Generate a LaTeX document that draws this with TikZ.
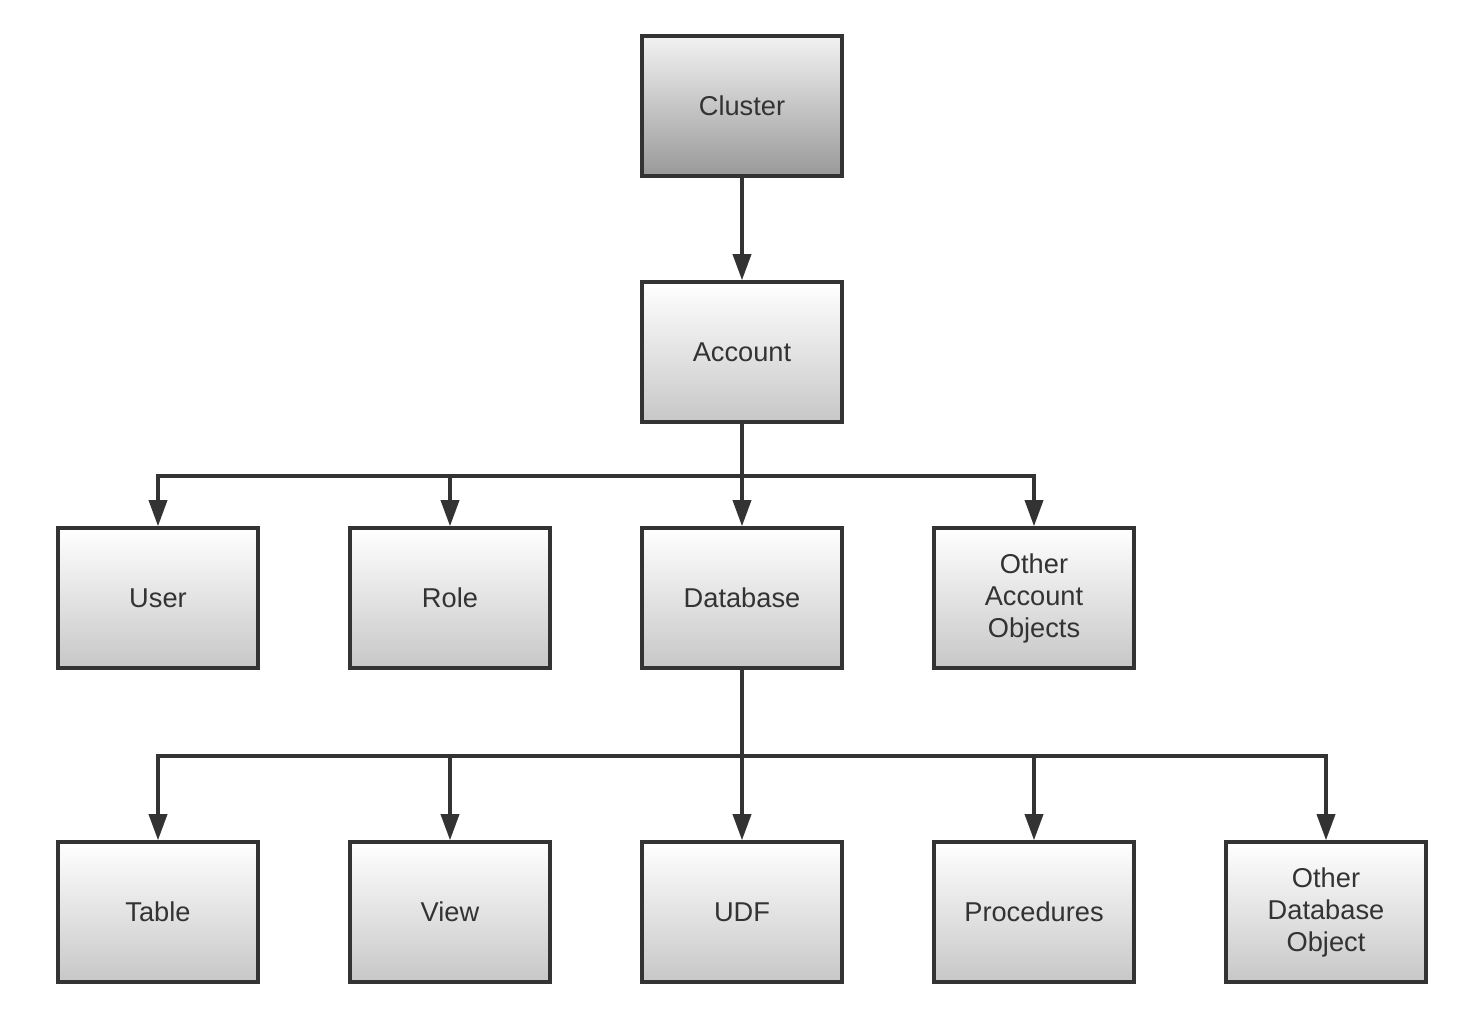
\documentclass[tikz,border=0pt]{standalone}
\usepackage{fontspec}
\setmainfont{Liberation Sans}
\usetikzlibrary{arrows.meta}
\definecolor{edge}{HTML}{333333}
\begin{document}
\begin{tikzpicture}[
  obj/.style={draw=edge, line width=2pt, minimum width=4cm, minimum height=2.8cm,
    align=center, text=edge, font=\fontsize{15.5}{18.2}\selectfont,
    top color=white, bottom color=black!22},
  root/.style={obj, top color=black!5, bottom color=black!40},
  link/.style={draw=edge, line width=2pt},
  arr/.style={link, -{Triangle[length=0.52cm,width=0.36cm]}}]
\useasboundingbox[fill=white] (0,0) rectangle (29.64,20.52);

\node[root] (cluster) at (14.84,18.4) {Cluster};
\node[obj] (account) at (14.84,13.48) {Account};

\node[obj] (user) at (3.16,8.56) {User};
\node[obj] (role) at (9,8.56) {Role};
\node[obj] (database) at (14.84,8.56) {Database};
\node[obj] (otheracc) at (20.68,8.56) {Other\\Account\\Objects};

\node[obj] (table) at (3.16,2.28) {Table};
\node[obj] (view) at (9,2.28) {View};
\node[obj] (udf) at (14.84,2.28) {UDF};
\node[obj] (proc) at (20.68,2.28) {Procedures};
\node[obj] (otherdb) at (26.52,2.28) {Other\\Database\\Object};

\coordinate (busA) at (14.84,11);
\coordinate (busB) at (14.84,5.4);

\draw[arr] (cluster) -- (account);

\draw[arr] (account) -- (database);
\draw[arr] (busA) -| (user);
\draw[arr] (busA) -| (role);
\draw[arr] (busA) -| (otheracc);

\draw[arr] (database) -- (udf);
\draw[arr] (busB) -| (table);
\draw[arr] (busB) -| (view);
\draw[arr] (busB) -| (proc);
\draw[arr] (busB) -| (otherdb);
\end{tikzpicture}
\end{document}
